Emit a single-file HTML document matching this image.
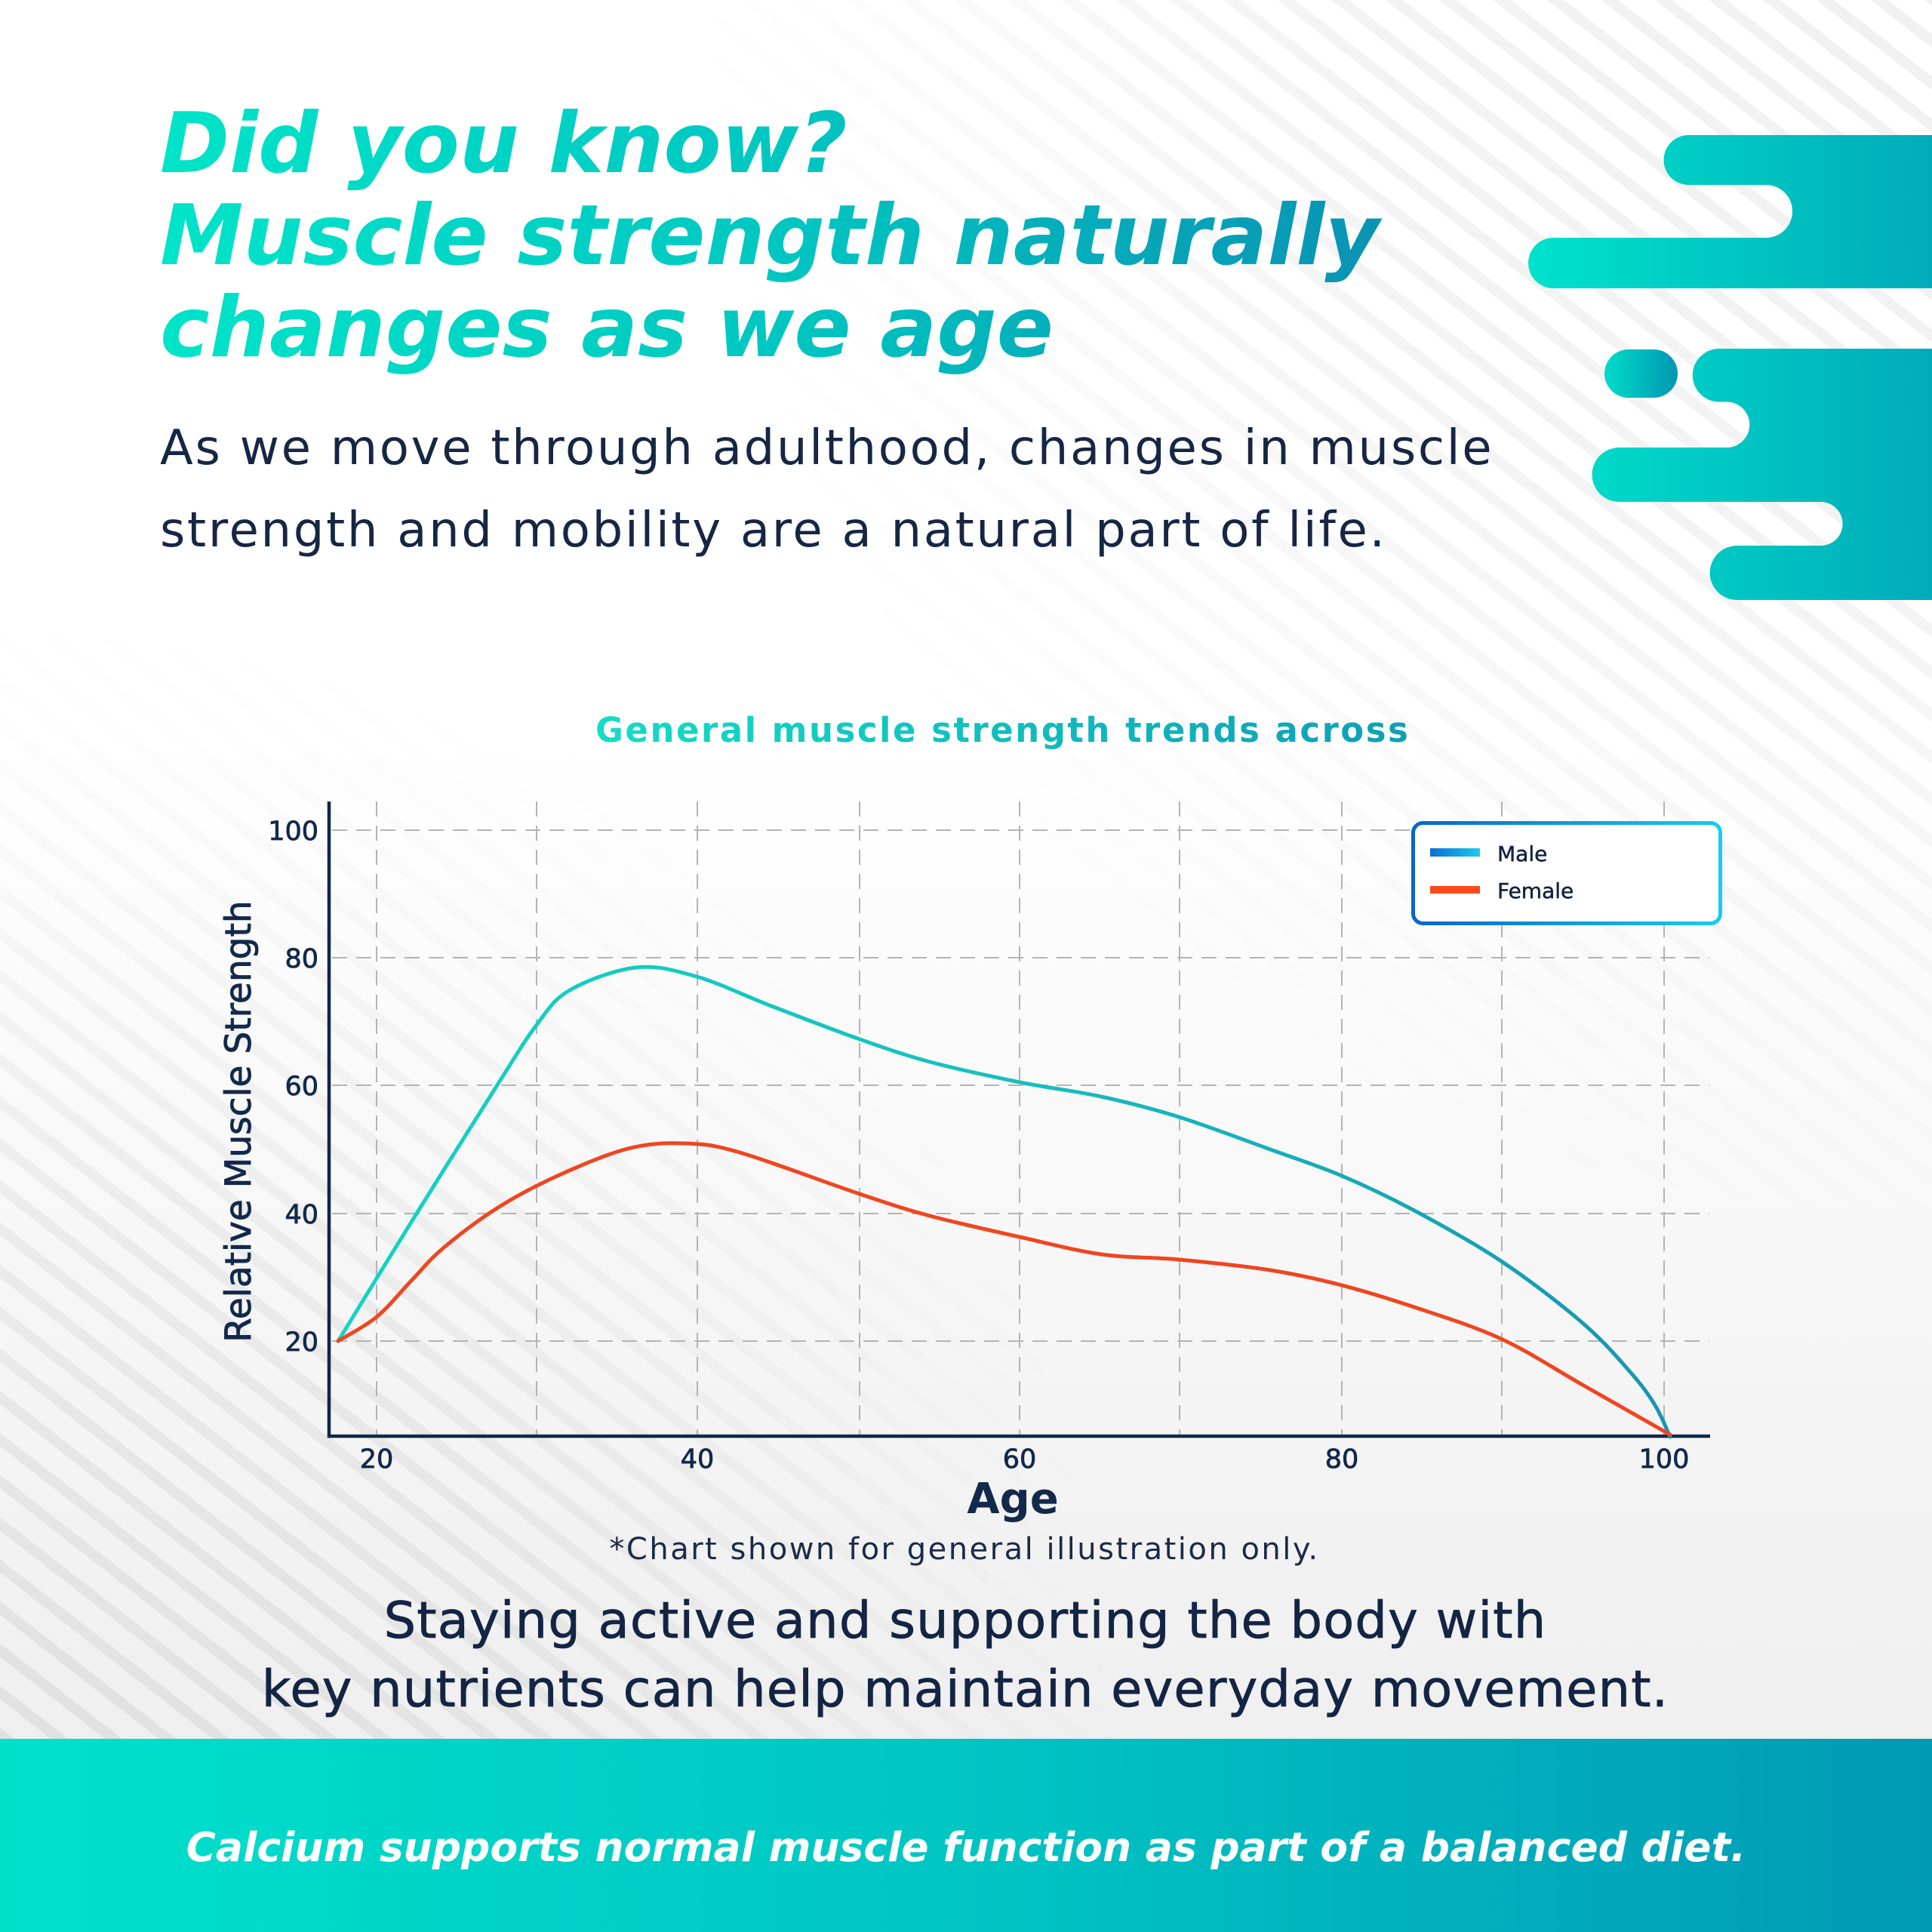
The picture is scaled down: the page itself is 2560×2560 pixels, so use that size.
<!DOCTYPE html>
<html>
<head>
<meta charset="utf-8">
<style>
  html, body { margin: 0; padding: 0; background: #ffffff; }
  body { width: 2560px; height: 2560px; overflow: hidden; }
  svg { display: block; }
  text { font-family: "DejaVu Sans", "Liberation Sans", sans-serif; }
</style>
</head>
<body>
<svg xmlns="http://www.w3.org/2000/svg" width="2560" height="2560" viewBox="0 0 2560 2560">
  <defs>
    <linearGradient id="bgGrad" x1="0" y1="0" x2="0" y2="2304" gradientUnits="userSpaceOnUse">
      <stop offset="0" stop-color="#ffffff"/>
      <stop offset="0.42" stop-color="#ffffff"/>
      <stop offset="1" stop-color="#efefef"/>
    </linearGradient>
    <pattern id="stripes" patternUnits="userSpaceOnUse" width="44" height="44" patternTransform="rotate(38)">
      <rect x="0" y="0" width="44" height="14" fill="#000000" fill-opacity="0.055"/>
    </pattern>
    <radialGradient id="rgTR" gradientUnits="userSpaceOnUse" cx="2560" cy="0" r="1650">
      <stop offset="0" stop-color="#fff" stop-opacity="1"/>
      <stop offset="0.45" stop-color="#fff" stop-opacity="0.85"/>
      <stop offset="1" stop-color="#fff" stop-opacity="0"/>
    </radialGradient>
    <radialGradient id="rgBL" gradientUnits="userSpaceOnUse" cx="0" cy="2304" r="1500">
      <stop offset="0" stop-color="#fff" stop-opacity="1"/>
      <stop offset="0.45" stop-color="#fff" stop-opacity="0.85"/>
      <stop offset="1" stop-color="#fff" stop-opacity="0"/>
    </radialGradient>
    <mask id="stripeMask" maskUnits="userSpaceOnUse" x="0" y="0" width="2560" height="2304">
      <rect x="0" y="0" width="2560" height="2304" fill="url(#rgTR)"/>
      <rect x="0" y="0" width="2560" height="2304" fill="url(#rgBL)"/>
    </mask>
    <linearGradient id="titleGrad" x1="212" y1="0" x2="1830" y2="0" gradientUnits="userSpaceOnUse">
      <stop offset="0" stop-color="#00e4c9"/>
      <stop offset="0.5" stop-color="#00c7c1"/>
      <stop offset="1" stop-color="#0a93b3"/>
    </linearGradient>
    <linearGradient id="shapeGrad" x1="2025" y1="0" x2="2560" y2="0" gradientUnits="userSpaceOnUse">
      <stop offset="0" stop-color="#00e2cc"/>
      <stop offset="1" stop-color="#00abb9"/>
    </linearGradient>
    <linearGradient id="pillGrad" x1="2126" y1="0" x2="2223" y2="0" gradientUnits="userSpaceOnUse">
      <stop offset="0" stop-color="#00dcc8"/>
      <stop offset="1" stop-color="#0096b2"/>
    </linearGradient>
    <linearGradient id="chartTitleGrad" x1="789" y1="0" x2="1870" y2="0" gradientUnits="userSpaceOnUse">
      <stop offset="0" stop-color="#14dcc6"/>
      <stop offset="1" stop-color="#0e9fb6"/>
    </linearGradient>
    <linearGradient id="maleGrad" x1="446" y1="0" x2="2213" y2="0" gradientUnits="userSpaceOnUse">
      <stop offset="0" stop-color="#12d4c3"/>
      <stop offset="0.5" stop-color="#18bfbd"/>
      <stop offset="1" stop-color="#1795b3"/>
    </linearGradient>
    <linearGradient id="legendGrad" x1="1870" y1="0" x2="2282" y2="0" gradientUnits="userSpaceOnUse">
      <stop offset="0" stop-color="#0a66c6"/>
      <stop offset="1" stop-color="#16cdf3"/>
    </linearGradient>
    <linearGradient id="maleSwatch" x1="1895" y1="0" x2="1961" y2="0" gradientUnits="userSpaceOnUse">
      <stop offset="0" stop-color="#0a6ecd"/>
      <stop offset="1" stop-color="#1ccaf3"/>
    </linearGradient>
    <linearGradient id="bannerGrad" x1="0" y1="0" x2="2560" y2="0" gradientUnits="userSpaceOnUse">
      <stop offset="0" stop-color="#00e1cc"/>
      <stop offset="0.5" stop-color="#00c5c3"/>
      <stop offset="1" stop-color="#009ab5"/>
    </linearGradient>
  </defs>

  <!-- Background -->
  <rect x="0" y="0" width="2560" height="2304" fill="url(#bgGrad)"/>
  <rect x="0" y="0" width="2560" height="2304" fill="url(#stripes)" mask="url(#stripeMask)"/>

  <!-- Decorative shapes -->
  <path d="M2560,179 H2237.5 A33,33 0 0 0 2237.5,245 H2340 A35,35 0 0 1 2340,315 H2058.5 A33.5,33.5 0 0 0 2058.5,382 H2560 Z" fill="url(#shapeGrad)"/>
  <rect x="2126" y="463" width="97" height="64" rx="32" ry="32" fill="url(#pillGrad)"/>
  <path d="M2560,462 H2278 A35,35 0 0 0 2278,532.5 H2288 A30.25,30.25 0 0 1 2288,593 H2145.5 A36,36 0 0 0 2145.5,665 H2412.6 A29,29 0 0 1 2412.6,723 H2301.6 A36,36 0 0 0 2301.6,795 H2560 Z" fill="url(#shapeGrad)"/>

  <!-- Title -->
  <g font-weight="bold" font-style="oblique" font-size="111" fill="url(#titleGrad)">
    <text x="212" y="228">Did you know?</text>
    <text x="212" y="350">Muscle strength naturally</text>
    <text x="212" y="472">changes as we age</text>
  </g>

  <!-- Subtitle -->
  <g font-size="64" fill="#162643" letter-spacing="2.7">
    <text x="212" y="615">As we move through adulthood, changes in muscle</text>
    <text x="212" y="724">strength and mobility are a natural part of life.</text>
  </g>

  <!-- Chart title -->
  <text x="789" y="983" font-size="45" font-weight="bold" letter-spacing="2.5" fill="url(#chartTitleGrad)">General muscle strength trends across</text>

  <!-- Grid -->
  <g stroke="#b4b4b4" stroke-width="2" stroke-dasharray="20 12" fill="none">
    <line x1="499" y1="1062" x2="499" y2="1901"/>
    <line x1="711" y1="1062" x2="711" y2="1901"/>
    <line x1="924" y1="1062" x2="924" y2="1901"/>
    <line x1="1139" y1="1062" x2="1139" y2="1901"/>
    <line x1="1351" y1="1062" x2="1351" y2="1901"/>
    <line x1="1563" y1="1062" x2="1563" y2="1901"/>
    <line x1="1778" y1="1062" x2="1778" y2="1901"/>
    <line x1="1990" y1="1062" x2="1990" y2="1901"/>
    <line x1="2205" y1="1062" x2="2205" y2="1901"/>
    <line x1="440" y1="1100" x2="2265" y2="1100"/>
    <line x1="440" y1="1269" x2="2265" y2="1269"/>
    <line x1="440" y1="1438" x2="2265" y2="1438"/>
    <line x1="440" y1="1608" x2="2265" y2="1608"/>
    <line x1="440" y1="1777" x2="2265" y2="1777"/>
  </g>

  <!-- Axes -->
  <line x1="436" y1="1062" x2="436" y2="1905" stroke="#0f2847" stroke-width="4.5"/>
  <line x1="434" y1="1903" x2="2266" y2="1903" stroke="#0f2847" stroke-width="4.5"/>

  <!-- Tick labels -->
  <g font-size="35" fill="#13294b" stroke="#13294b" stroke-width="0.8" text-anchor="end">
    <text x="422" y="1113">100</text>
    <text x="422" y="1282">80</text>
    <text x="422" y="1451">60</text>
    <text x="422" y="1621">40</text>
    <text x="422" y="1790">20</text>
  </g>
  <g font-size="35" fill="#13294b" stroke="#13294b" stroke-width="0.8" text-anchor="middle">
    <text x="499" y="1945">20</text>
    <text x="924" y="1945">40</text>
    <text x="1351" y="1945">60</text>
    <text x="1778" y="1945">80</text>
    <text x="2205" y="1945">100</text>
  </g>

  <!-- Axis labels -->
  <text transform="translate(332,1486) rotate(-90)" text-anchor="middle" font-size="47" fill="#13294b" stroke="#13294b" stroke-width="0.9">Relative Muscle Strength</text>
  <text x="1342" y="2005" text-anchor="middle" font-size="56" font-weight="bold" fill="#13294b">Age</text>

  <!-- Curves -->
  <path fill="none" stroke="url(#maleGrad)" stroke-width="5" stroke-linecap="round" stroke-linejoin="round"
    d="M448,1777
       C465.3,1748.8 516.7,1664.8 552,1608
       C587.3,1551.2 633.5,1477.7 660,1436
       C686.5,1394.3 695.2,1378.7 711,1358
       C726.8,1337.3 733,1324.7 755,1312
       C777,1299.3 815,1285 843,1282
       C871,1279 893.2,1285.5 923,1294
       C952.8,1302.5 986,1319.2 1022,1333
       C1058,1346.8 1104,1364.7 1139,1377
       C1174,1389.3 1196.7,1397.5 1232,1407
       C1267.3,1416.5 1313.2,1426.3 1351,1434
       C1388.8,1441.7 1423.8,1445.3 1459,1453
       C1494.2,1460.7 1524.7,1468.3 1562,1480
       C1599.3,1491.7 1647,1510 1683,1523
       C1719,1536 1746.2,1544.5 1778,1558
       C1809.8,1571.5 1838.8,1585.2 1874,1604
       C1909.2,1622.8 1951.8,1646.2 1989,1671
       C2026.2,1695.8 2068.3,1728.3 2097,1753
       C2125.7,1777.7 2145,1800.8 2161,1819
       C2177,1837.2 2184.3,1847.8 2193,1862
       C2201.7,1876.2 2209.7,1897 2213,1904"/>
  <path fill="none" stroke="#ef4620" stroke-width="5" stroke-linecap="round" stroke-linejoin="round"
    d="M448,1777
       C456.5,1771.7 482.8,1758.3 499,1745
       C515.2,1731.7 530.3,1712.2 545,1697
       C559.7,1681.8 567.8,1670.2 587,1654
       C606.2,1637.8 634.3,1616.2 660,1600
       C685.7,1583.8 712.3,1570 741,1557
       C769.7,1544 804.5,1529 832,1522
       C859.5,1515 881.3,1514.2 906,1515
       C930.7,1515.8 941.2,1515.8 980,1527
       C1018.8,1538.2 1097,1568 1139,1582
       C1181,1596 1196.7,1601.5 1232,1611
       C1267.3,1620.5 1313.2,1630.5 1351,1639
       C1388.8,1647.5 1423.8,1657 1459,1662
       C1494.2,1667 1524.7,1665.5 1562,1669
       C1599.3,1672.5 1647,1677.3 1683,1683
       C1719,1688.7 1746.2,1694.8 1778,1703
       C1809.8,1711.2 1838.8,1720.2 1874,1732
       C1909.2,1743.8 1951.8,1756.8 1989,1774
       C2026.2,1791.2 2059.7,1813.8 2097,1835
       C2134.3,1856.2 2193.7,1890 2213,1901"/>

  <!-- Legend -->
  <rect x="1872.5" y="1090.5" width="407" height="133" rx="13" ry="13" fill="#ffffff" stroke="url(#legendGrad)" stroke-width="5"/>
  <rect x="1895" y="1124" width="66" height="11" fill="url(#maleSwatch)"/>
  <rect x="1895" y="1174" width="66" height="10" fill="#fe4a1a"/>
  <g font-size="28" fill="#12233f" stroke="#12233f" stroke-width="0.5">
    <text x="1984" y="1141">Male</text>
    <text x="1984" y="1190">Female</text>
  </g>

  <!-- Footnote -->
  <text x="1278" y="2066" text-anchor="middle" font-size="40" letter-spacing="2.5" fill="#1b2a47">*Chart shown for general illustration only.</text>

  <!-- Bottom message -->
  <g font-size="67" fill="#142444" stroke="#142444" stroke-width="0.8" text-anchor="middle" letter-spacing="1.2">
    <text x="1279" y="2170">Staying active and supporting the body with</text>
    <text x="1279" y="2261">key nutrients can help maintain everyday movement.</text>
  </g>

  <!-- Banner -->
  <rect x="0" y="2304" width="2560" height="256" fill="url(#bannerGrad)"/>
  <text x="1280" y="2466" text-anchor="middle" font-size="53.5" font-weight="bold" font-style="oblique" fill="#ffffff">Calcium supports normal muscle function as part of a balanced diet.</text>
</svg>
</body>
</html>
